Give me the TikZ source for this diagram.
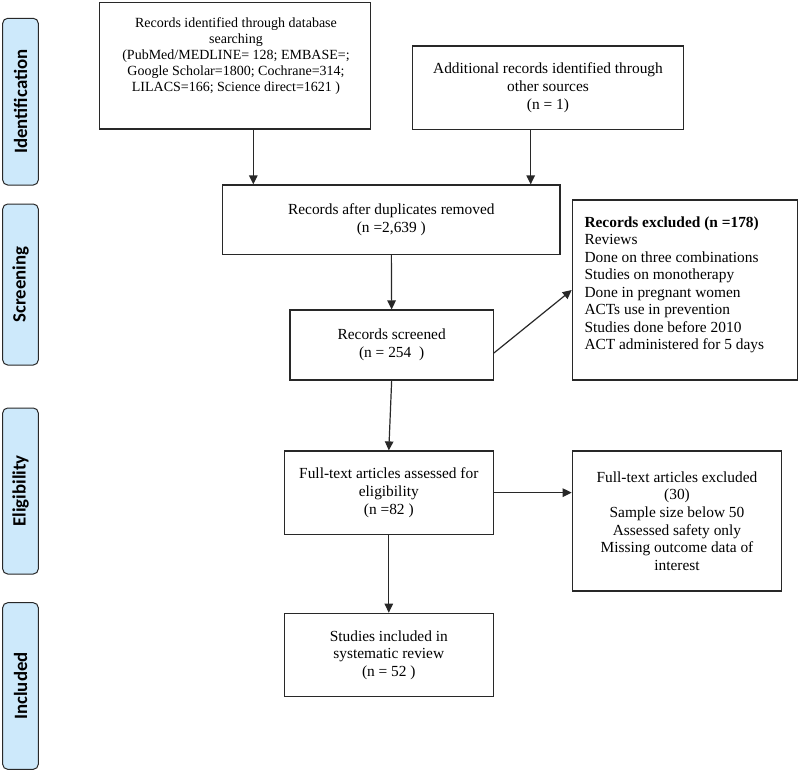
\documentclass[tikz,border=0pt]{standalone}
\usepackage{fontspec}
\setmainfont{Liberation Serif}
\newfontfamily\phasefont{Carlito}
\usetikzlibrary{arrows.meta,calc}
\definecolor{phasefill}{RGB}{205,233,251}
\definecolor{linegray}{RGB}{40,40,40}
\begin{document}
\begin{tikzpicture}[x=1pt,y=-1pt,
  box/.style={draw=linegray, line width=1.2pt, rectangle, inner sep=0pt, align=center,
    font=\fontsize{15.4}{17.7}\selectfont},
  txtsmall/.style={inner sep=0pt, align=center, font=\fontsize{14}{16}\selectfont},
  txtleft/.style={inner sep=0pt, align=left, font=\fontsize{15.4}{17.5}\selectfont},
  phase/.style={draw=linegray, line width=1pt, fill=phasefill, rounded corners=5pt,
    rotate=90, minimum height=35.6pt, inner sep=0pt,
    font=\phasefont\bfseries\fontsize{18.8}{20}\selectfont},
  arr/.style={draw=linegray, line width=1.2pt, -{Triangle[length=9pt,width=8.5pt]}}]
\useasboundingbox (0,0) rectangle (800,772);
\fill[white] (0,0) rectangle (800,772);

% phase labels
\node[phase, minimum width=166.7pt] (p1) at (20.5,101.65) {Identification};
\node[phase, minimum width=161pt] (p2) at (20.5,284.5) {Screening};
\node[phase, minimum width=166pt] (p3) at (20.5,491) {Eligibility};
\node[phase, minimum width=166.6pt] (p4) at (20.5,686) {Included};

% boxes
\node[box, minimum width=271.4pt, minimum height=126.3pt] (b1) at (235,65.85) {};
\node[txtsmall] (t1) at (236,56.5) {Records identified through database\\searching\\(PubMed/MEDLINE= 128; EMBASE=;\\Google Scholar=1800; Cochrane=314;\\LILACS=166; Science direct=1621 )};

\node[box, minimum width=271.4pt, minimum height=83.7pt] (b2) at (548,87.85)
  {Additional records identified through\\other sources\\(n = 1)};

\node[box, minimum width=337.3pt, minimum height=69.3pt] (b3) at (391.35,219.65)
  {Records after duplicates removed\\(n =2,639 )};

\node[box, minimum width=203.3pt, minimum height=70pt] (b4) at (391.65,345)
  {Records screened\\(n = 254\ \ )};

\node[box, minimum width=225pt, minimum height=180pt] (ex1) at (684.8,290) {};
\node[txtleft, anchor=north west] (tx1) at (584.3,216.3)
  {\textbf{Records excluded (n =178)}\\Reviews\\Done on three combinations\\Studies on monotherapy\\Done in pregnant women\\ACTs use in prevention\\Studies done before 2010\\ACT administered for 5 days};

\node[box, minimum width=209pt, minimum height=83.3pt] (b5) at (388.8,492.65)
  {Full-text articles assessed for\\eligibility\\(n =82 )};

\node[box, minimum width=209.4pt, minimum height=140pt] (ex2) at (677,521)
  {Full-text articles excluded\\(30)\\Sample size below 50\\Assessed safety only\\Missing outcome data of\\interest};

\node[box, minimum width=209pt, minimum height=83.4pt] (b6) at (388.8,655)
  {Studies included in\\systematic review\\(n = 52 )};

% connectors
\coordinate (a1) at ([xshift=18.3pt]b1.south);
\coordinate (a2) at ([xshift=-17.3pt]b2.south);
\draw[arr] (a1) -- (a1 |- b3.north);
\draw[arr] (a2) -- (a2 |- b3.north);
\draw[arr] (b3.south) -- (b4.north);
\draw[arr] ([yshift=-8pt]b4.east) -- (ex1.west);
\draw[arr] (b4.south) -- (b5.north);
\draw[arr] (b5.east) -- (b5.east -| ex2.west);
\draw[arr] (b5.south) -- (b6.north);
\end{tikzpicture}
\end{document}
